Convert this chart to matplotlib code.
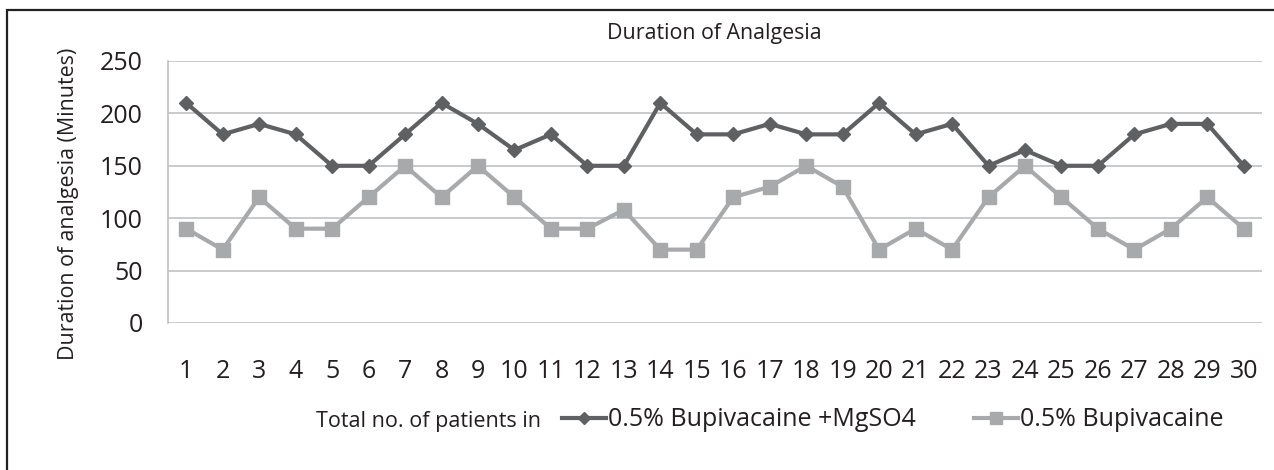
import numpy as np
import matplotlib.pyplot as plt
from matplotlib.patches import Rectangle

patients = list(range(1, 31))
bupi_mg = [210, 180, 190, 180, 150, 150, 180, 210, 190, 165,
           180, 150, 150, 210, 180, 180, 190, 180, 180, 210,
           180, 190, 150, 165, 150, 150, 180, 190, 190, 150]
bupi = [90, 70, 120, 90, 90, 120, 150, 120, 150, 120,
        90, 90, 108, 70, 70, 120, 130, 150, 130, 70,
        90, 70, 120, 150, 120, 90, 70, 90, 120, 90]
y_ticks = [0, 50, 100, 150, 200, 250]

dark = '#5f6062'
light = '#a8a9ab'
grid = '#bfc1c2'
txt = '#231f20'

plt.rcParams['font.family'] = ['Open Sans', 'DejaVu Sans']

fig = plt.figure(figsize=(12.74, 4.7), dpi=100)
W, H = 1274, 470
ax = fig.add_axes([168 / W, 1 - 323 / H, (1262 - 168) / W, (323 - 61) / H])

# outer frame, only top and left edges fall inside the picture
fig.patches.append(Rectangle((7 / W, -0.1), 1.2, 1 - 10 / H + 0.1,
                             transform=fig.transFigure, fill=False,
                             edgecolor='#222222', linewidth=1.6))

l1, = ax.plot(patients, bupi_mg, color=dark, lw=3, marker='D', ms=7.3,
              label='0.5% Bupivacaine +MgSO4', zorder=3)
l2, = ax.plot(patients, bupi, color=light, lw=3, marker='s', ms=10.3,
              label='0.5% Bupivacaine', zorder=3)

ax.set_xlim(0.5, 30.5)
ax.set_ylim(0, 250)
ax.set_yticks(y_ticks)
ax.set_xticks(patients)
ax.yaxis.grid(True, color=grid, lw=1.2)
ax.set_axisbelow(True)
for s in ['top', 'right', 'bottom']:
    ax.spines[s].set_visible(False)
ax.spines['left'].set_color(grid)
ax.spines['left'].set_linewidth(1.2)
ax.tick_params(axis='both', length=0, labelsize=18, colors=txt)
ax.tick_params(axis='y', pad=18)
ax.tick_params(axis='x', pad=26)

fig.text(69 / W, 1 - 204 / H, 'Duration of analgesia (Minutes)', rotation=90,
         ha='center', va='center', fontsize=15.4, color=txt)
fig.text(714 / W, 1 - 34 / H, 'Duration of Analgesia', ha='center', va='center',
         fontsize=15.4, color=txt)

fig.text(316 / W, 1 - 427 / H, 'Total no. of patients in', ha='left', va='baseline',
         fontsize=15.5, color=txt)
fig.legend(handles=[l1, l2], loc='center left', bbox_to_anchor=(562 / W, 1 - 420 / H),
           ncol=2, frameon=False, fontsize=18, handlelength=1.76, handletextpad=0.1,
           columnspacing=2.3, borderaxespad=0, borderpad=0, labelcolor=txt,
           markerscale=0.85)

fig.savefig('out.png', dpi=100, facecolor='white')
